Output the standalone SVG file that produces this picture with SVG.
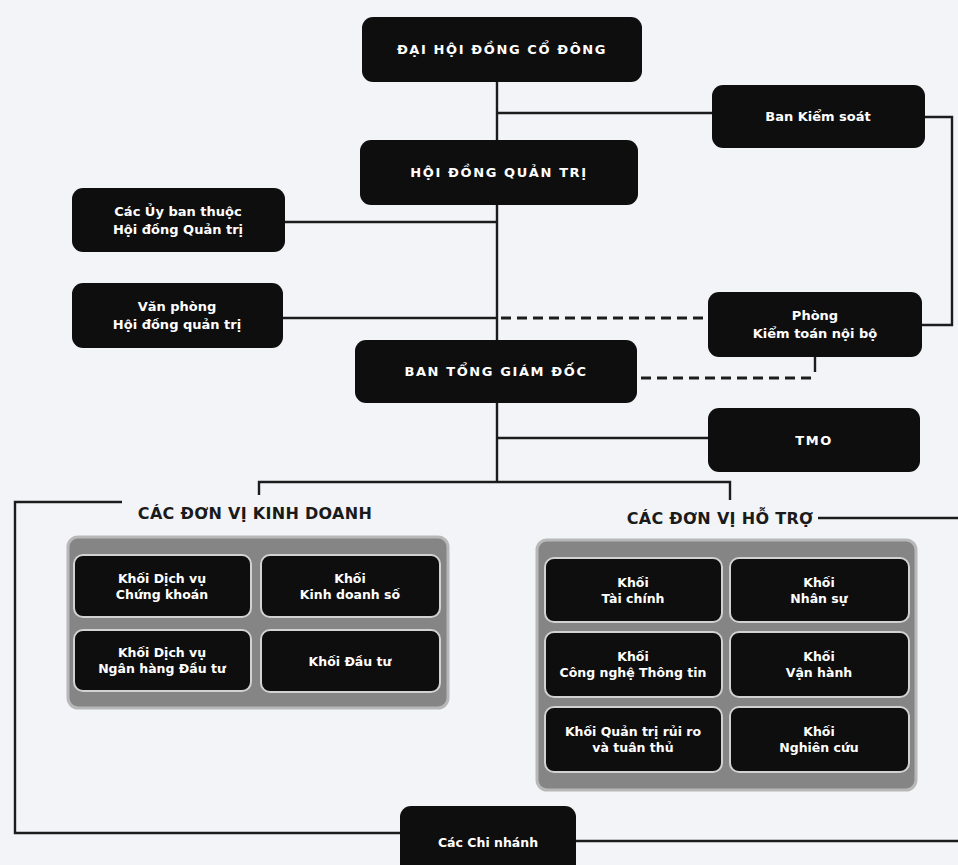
<svg xmlns="http://www.w3.org/2000/svg" width="958" height="865" viewBox="0 0 958 865">
<style>
.bg{fill:#f3f4f8}
.box{fill:#0e0e0e}
.ibox{fill:#0e0e0e;stroke:#d2d2d2;stroke-width:2}
.panel{fill:#858585;stroke:#b8b8b8;stroke-width:3}
.t{font-family:"DejaVu Sans","Liberation Sans",sans-serif;fill:#ffffff;text-anchor:middle;font-weight:700}
.tb{font-size:13px;letter-spacing:1.6px}
.ts{font-size:13px}
.tp{font-size:12.5px}
.h{font-family:"DejaVu Sans","Liberation Sans",sans-serif;fill:#1a1a1a;font-size:16px;font-weight:700;letter-spacing:0.3px;text-anchor:middle}
.ln{fill:none;stroke:#1c1c1c;stroke-width:2.4}
.dash{fill:none;stroke:#1c1c1c;stroke-width:3.2;stroke-dasharray:10 6}
</style>
<rect class="bg" x="0" y="0" width="958" height="865"/>
<g id="connectors">
<path class="ln" d="M497 82 V482"/>
<path class="ln" d="M497 113 H712"/>
<path class="ln" d="M925 117 H952 V325 H922"/>
<path class="ln" d="M285 222 H497"/>
<path class="ln" d="M283 318 H497"/>
<path class="dash" d="M501 318 H708"/>
<path class="dash" d="M641 378 H815"/>
<path class="ln" d="M815 357 V372"/>
<path class="ln" d="M497 438 H708"/>
<path class="ln" d="M259 495 V482 H730 V500"/>
<path class="ln" d="M122 502 H15 V833 H400"/>
<path class="ln" d="M818 518 H958"/>
<path class="ln" d="M576 841 H958"/>
</g>
<g id="dhdcd"><rect class="box" x="362" y="17" width="280" height="65" rx="11"/><text class="t tb" x="502" y="54">ĐẠI HỘI ĐỒNG CỔ ĐÔNG</text></g>
<g id="bks"><rect class="box" x="712" y="85" width="213" height="63" rx="11"/><text class="t ts" x="818" y="121">Ban Kiểm soát</text></g>
<g id="hdqt"><rect class="box" x="360" y="140" width="278" height="65" rx="11"/><text class="t tb" x="499" y="177">HỘI ĐỒNG QUẢN TRỊ</text></g>
<g id="uyban"><rect class="box" x="72" y="188" width="213" height="64" rx="11"/><text class="t ts" x="178" y="215.5">Các Ủy ban thuộc</text><text class="t ts" x="178" y="233.5">Hội đồng Quản trị</text></g>
<g id="vanphong"><rect class="box" x="72" y="283" width="211" height="65" rx="11"/><text class="t ts" x="177" y="311">Văn phòng</text><text class="t ts" x="177" y="329">Hội đồng quản trị</text></g>
<g id="ktnb"><rect class="box" x="708" y="292" width="214" height="65" rx="11"/><text class="t ts" x="815" y="320">Phòng</text><text class="t ts" x="815" y="338">Kiểm toán nội bộ</text></g>
<g id="btgd"><rect class="box" x="355" y="340" width="282" height="63" rx="11"/><text class="t tb" x="496" y="376">BAN TỔNG GIÁM ĐỐC</text></g>
<g id="tmo"><rect class="box" x="708" y="408" width="212" height="64" rx="11"/><text class="t tb" x="814" y="445">TMO</text></g>
<g id="kinhdoanh">
<text class="h" x="255" y="519">CÁC ĐƠN VỊ KINH DOANH</text>
<rect class="panel" x="68" y="537" width="380" height="171" rx="10"/>
<rect class="ibox" x="74" y="555" width="177" height="62" rx="9"/><text class="t tp" x="162" y="582.5">Khối Dịch vụ</text><text class="t tp" x="162" y="598.5">Chứng khoán</text>
<rect class="ibox" x="261" y="555" width="179" height="62" rx="9"/><text class="t tp" x="350" y="582.5">Khối</text><text class="t tp" x="350" y="598.5">Kinh doanh số</text>
<rect class="ibox" x="74" y="630" width="177" height="61" rx="9"/><text class="t tp" x="162" y="657">Khối Dịch vụ</text><text class="t tp" x="162" y="673">Ngân hàng Đầu tư</text>
<rect class="ibox" x="261" y="630" width="179" height="62" rx="9"/><text class="t tp" x="350" y="665.5">Khối Đầu tư</text>
</g>
<g id="hotro">
<text class="h" x="720" y="524">CÁC ĐƠN VỊ HỖ TRỢ</text>
<rect class="panel" x="537" y="540" width="379" height="250" rx="10"/>
<rect class="ibox" x="545" y="558" width="177" height="64" rx="9"/><text class="t tp" x="633" y="586.5">Khối</text><text class="t tp" x="633" y="602.5">Tài chính</text>
<rect class="ibox" x="730" y="558" width="179" height="64" rx="9"/><text class="t tp" x="819" y="586.5">Khối</text><text class="t tp" x="819" y="602.5">Nhân sự</text>
<rect class="ibox" x="545" y="632" width="177" height="65" rx="9"/><text class="t tp" x="633" y="661">Khối</text><text class="t tp" x="633" y="677">Công nghệ Thông tin</text>
<rect class="ibox" x="730" y="632" width="179" height="65" rx="9"/><text class="t tp" x="819" y="661">Khối</text><text class="t tp" x="819" y="677">Vận hành</text>
<rect class="ibox" x="545" y="707" width="177" height="65" rx="9"/><text class="t tp" x="633" y="736">Khối Quản trị rủi ro</text><text class="t tp" x="633" y="752">và tuân thủ</text>
<rect class="ibox" x="730" y="707" width="179" height="65" rx="9"/><text class="t tp" x="819" y="736">Khối</text><text class="t tp" x="819" y="752">Nghiên cứu</text>
</g>
<g id="chinhanh"><rect class="box" x="400" y="806" width="176" height="75" rx="11"/><text class="t tp" x="488" y="847">Các Chi nhánh</text></g>
</svg>
